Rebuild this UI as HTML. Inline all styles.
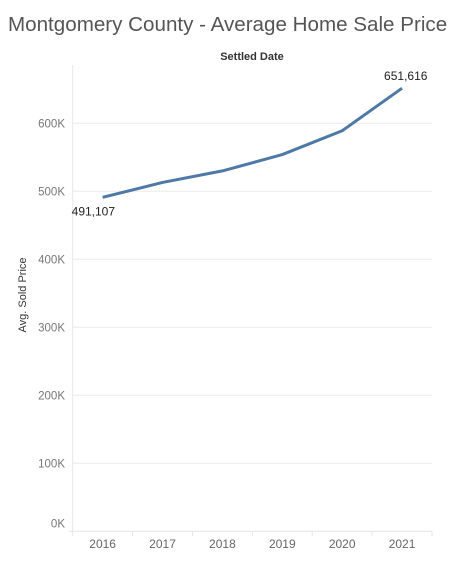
<!DOCTYPE html>
<html><head><meta charset="utf-8"><style>
body{margin:0;background:#fff;width:459px;height:557px;overflow:hidden;font-family:"Liberation Sans",sans-serif}
</style></head><body>
<svg width="459" height="557">
<text x="8" y="31" font-size="20.6" fill="#555">Montgomery County - Average Home Sale Price</text>
<text x="252" y="60" font-size="11" font-weight="bold" fill="#333" text-anchor="middle">Settled Date</text>
<text transform="translate(26,295) rotate(-90)" font-size="11" fill="#333" text-anchor="middle">Avg. Sold Price</text>
<g id="grid"></g><g id="axes"></g><g id="marks"></g>
</svg>
<script>
const years=["2016","2017","2018","2019","2020","2021"];
const prices=[491107,513000,530000,554000,589000,651616];
const yTicks=[0,100000,200000,300000,400000,500000,600000];
const tickLabels=["0K","100K","200K","300K","400K","500K","600K"];
const NS="http://www.w3.org/2000/svg";
const L=72.7,R=432,B=531.3,band=(R-L)/6;
const x=i=>L+band*(i+0.5);
const y=v=>B-v*0.00068;
function mk(t,a,p){const e=document.createElementNS(NS,t);for(const k in a)e.setAttribute(k,a[k]);document.getElementById(p).appendChild(e);return e;}
yTicks.forEach((v,i)=>{
 if(v>0){const g=mk('line',{x1:L,x2:R,y1:y(v),y2:y(v),stroke:'#ececec','stroke-width':1},'grid');
 
 }
 const t=mk('text',{x:65,y:v===0?y(v)-4:y(v)+4,'font-size':11.5,fill:'#777','text-anchor':'end'},'axes');t.textContent=tickLabels[i];
 
 
});
const ax=mk('line',{x1:L,x2:L,y1:65,y2:B,stroke:'#e6e6e6'},'axes');


const bx=mk('line',{x1:L-4,x2:R,y1:B,y2:B,stroke:'#e6e6e6'},'axes');


for(let i=0;i<=6;i++){const tk=mk('line',{x1:L+band*i,x2:L+band*i,y1:B,y2:B+5,stroke:'#e6e6e6'},'axes');
 
 }
years.forEach((yr,i)=>{const t=mk('text',{x:x(i),y:548,'font-size':12,fill:'#666','text-anchor':'middle'},'axes');t.textContent=yr;
 
 });
const pl=mk('polyline',{points:prices.map((v,i)=>x(i)+','+y(v)).join(' '),fill:'none',stroke:'#4e79a7','stroke-width':3,'stroke-linejoin':'round'},'marks');


const fmt=v=>v.toLocaleString('en-US');
const l1=mk('text',{x:x(0)-31,y:y(prices[0])+18,'font-size':12,fill:'#222'},'marks');l1.textContent=fmt(prices[0]);


const l2=mk('text',{x:x(5)-18,y:y(prices[5])-8,'font-size':12,fill:'#222'},'marks');l2.textContent=fmt(prices[5]);


</script>
</body></html>
